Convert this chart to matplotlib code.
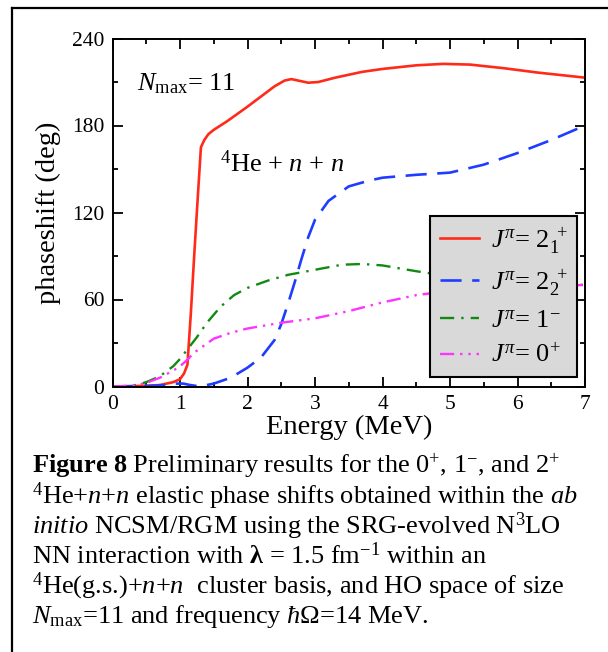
import matplotlib
matplotlib.use('Agg')
import matplotlib.pyplot as plt
from matplotlib.lines import Line2D
from matplotlib.ticker import MultipleLocator

plt.rcParams['font.family'] = ['Liberation Serif', 'DejaVu Serif']
plt.rcParams['mathtext.fontset'] = 'custom'
plt.rcParams['mathtext.rm'] = 'Liberation Serif'
plt.rcParams['mathtext.it'] = 'Liberation Serif:italic'
plt.rcParams['mathtext.bf'] = 'Liberation Serif:bold'

# J = 2_1+ (red, solid)
e_21 = [0, 0.3, 0.5, 0.7, 0.8, 0.9, 1.0, 1.06, 1.11, 1.16, 1.21, 1.26, 1.31, 1.36, 1.42,
        1.5, 1.7, 2.0, 2.2, 2.4, 2.55, 2.65, 2.75, 2.9, 3.05, 3.3, 3.7, 4.0, 4.5, 4.9,
        5.3, 5.8, 6.3, 7.0]
d_21 = [0, 0.3, 0.5, 1, 2, 3, 5, 9, 15, 50, 90, 128, 165, 170, 174,
        177, 183, 193, 200, 207, 211, 212, 211, 209.5, 210, 213, 217, 219, 221.5, 222.5,
        222, 219.5, 216.5, 213]

# J = 2_2+ (blue, dashed)
e_22 = [0, 0.5, 0.8, 0.95, 1.05, 1.15, 1.3, 1.5, 1.75, 2.0, 2.2, 2.4, 2.5, 2.6, 2.7,
        2.8, 2.9, 3.0, 3.2, 3.5, 3.8, 4.0, 4.5, 5.0, 5.5, 6.0, 6.5, 7.0]
d_22 = [0, 0.3, 1, 2, 2, 1, 0, 2, 6, 13, 20, 32, 43, 57, 72,
        88, 103, 115, 128, 138, 142, 144, 146, 147.5, 153, 161, 170, 180]

# J = 1- (green, dash-dot)
e_1m = [0, 0.3, 0.5, 0.7, 0.9, 1.0, 1.1, 1.25, 1.4, 1.6, 1.8, 2.0, 2.3, 2.6, 3.0,
        3.4, 3.7, 4.0, 4.5, 5.0, 5.5, 6.0, 6.5, 7.0]
d_1m = [0, 0.5, 3, 7, 14, 19, 25, 34, 44, 55, 63, 68, 73, 77, 80.5,
        84, 84.5, 83.5, 79.5, 76, 73.5, 72, 71, 70]

# J = 0+ (magenta, dash-dot-dot)
e_0p = [0, 0.3, 0.5, 0.7, 0.9, 1.0, 1.1, 1.2, 1.35, 1.5, 1.75, 2.0, 2.5, 3.0, 3.5,
        4.0, 4.5, 5.0, 5.5, 6.0, 6.5, 7.0]
d_0p = [0, 0.5, 2.5, 6, 11, 14, 18, 23, 28, 33, 37, 40, 44, 47, 52,
        58, 63, 66, 68, 69, 69.5, 70]

labels = [r'$J^{\pi}$= 2$_1^{\ +}$', r'$J^{\pi}$= 2$_2^{\ +}$',
          r'$J^{\pi}$= 1$^{-}$', r'$J^{\pi}$= 0$^{+}$']

caption = [
    r'$\mathbf{Figure\ 8}$ Preliminary results for the 0$^{+}$, 1$^{-}$, and 2$^{+}$',
    r'$^{4}$He+$n$+$n$ elastic phase shifts obtained within the $ab$',
    r'$initio$ NCSM/RGM using the SRG-evolved N$^{3}$LO',
    r'NN interaction with $\mathbf{λ}$ = 1.5 fm$^{-1}$ within an',
    r'$^{4}$He(g.s.)+$n$+$n$  cluster basis, and HO space of size',
    r'$N_{\rm max}$=11 and frequency $ħ$Ω=14 MeV.',
]

W, H = 608, 652
fig = plt.figure(figsize=(W / 100, H / 100), dpi=100)
ax = fig.add_axes([112.5 / W, (H - 386.5) / H, (585 - 112.5) / W, (386.5 - 38.5) / H])

ax.plot(e_21, d_21, color='#ff2a1a', lw=1.9, label=labels[0])
ax.plot(e_22, d_22, color='#1f3cff', lw=1.9, dashes=(8, 4), label=labels[1])
ax.plot(e_1m, d_1m, color='#128a12', lw=1.7, dashes=(6, 3, 1, 3), label=labels[2])
ax.plot(e_0p, d_0p, color='#ff33ff', lw=1.7, dashes=(6, 2.5, 1, 2.5, 1, 2.5), label=labels[3])

ax.set_xlim(0, 7)
ax.set_ylim(0, 240)
ax.xaxis.set_major_locator(MultipleLocator(1))
ax.xaxis.set_minor_locator(MultipleLocator(0.5))
ax.yaxis.set_major_locator(MultipleLocator(60))
ax.yaxis.set_minor_locator(MultipleLocator(30))
ax.tick_params(which='both', direction='in', top=True, right=True, width=1.3, labelsize=15.5)
ax.tick_params(which='major', length=7.5)
ax.tick_params(which='minor', length=3.8)
ax.tick_params(axis='y', pad=6)
ax.tick_params(axis='x', pad=6)
for s in ax.spines.values():
    s.set_linewidth(1.4)

ax.set_xlabel('Energy (MeV)', fontsize=20.5, labelpad=1)
ax.set_ylabel('phaseshift (deg)', fontsize=20.5, labelpad=8)

ax.text(0.37, 204, r'$N_{\rm max}$= 11', fontsize=19)
ax.text(1.6, 148, r'$^{4}$He + $n$ + $n$', fontsize=19)

leg = ax.legend(loc='lower right', bbox_to_anchor=(577 / W, (H - 377) / H),
                bbox_transform=fig.transFigure, fontsize=19, frameon=True,
                fancybox=False, framealpha=1, facecolor='#d9d9d9', edgecolor='black',
                handlelength=1.5, handletextpad=0.45, labelspacing=0.42,
                borderpad=0.35, borderaxespad=0)
leg.get_frame().set_linewidth(1.5)

# outer frame of the figure box (left and top edges)
fig.add_artist(Line2D([12 / W, 12 / W], [0, (H - 8) / H], color='black', lw=1.6))
fig.add_artist(Line2D([12 / W, 1], [(H - 8) / H, (H - 8) / H], color='black', lw=1.6))

for i, line in enumerate(caption):
    fig.text(32 / W, (H - 466 - 30 * i) / H, line, fontsize=19, va='center', ha='left')

fig.savefig('out.png', dpi=100, facecolor='white')
